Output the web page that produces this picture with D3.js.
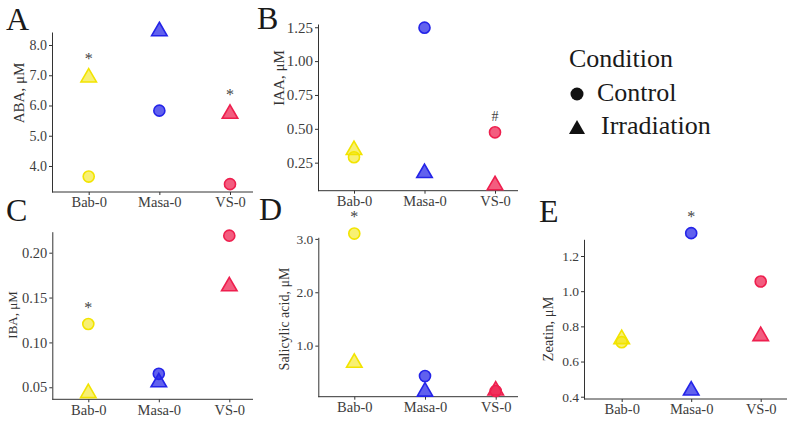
<!DOCTYPE html>
<html>
<head>
<meta charset="utf-8">
<script src="https://cdn.jsdelivr.net/npm/d3@7"></script>
<style>
  body { margin: 0; background: #fff; }
  svg { display: block; }
  text { font-family: "Liberation Serif", "Times New Roman", serif; }
</style>
</head>
<body>
<svg id="chart" width="796" height="422"></svg>
<script>
// genotypes on the x axis and the two conditions
const lines = ["Bab-0", "Masa-0", "VS-0"];
const conditions = ["Control", "Irradiation"];
const lineColors = ["#f2e400", "#2424e8", "#ee1f4e"];

// hormone levels, uM, one value per line
const abaControl = [3.65, 5.83, 3.40];
const abaIrradiation = [7.00, 8.53, 5.80];
const iaaControl = [0.29, 1.247, 0.474];
const iaaIrradiation = [0.36, 0.19, 0.10];
const ibaControl = [0.1205, 0.065, 0.219];
const ibaIrradiation = [0.046, 0.058, 0.165];
const saControl = [3.10, 0.43, 0.15];
const saIrradiation = [0.72, 0.18, 0.20];
const zeatinControl = [0.71, 1.33, 1.055];
const zeatinIrradiation = [0.74, 0.448, 0.757];

// y tick values
const abaTicks = [4, 5, 6, 7, 8];
const iaaTicks = [0.25, 0.5, 0.75, 1.0, 1.25];
const ibaTicks = [0.05, 0.10, 0.15, 0.20];
const saTicks = [1, 2, 3];
const zeatinTicks = [0.4, 0.6, 0.8, 1.0, 1.2];

// significance marks: [line, condition, symbol]
const abaMarks = [["Bab-0", "Irradiation", "*"], ["VS-0", "Irradiation", "*"]];
const iaaMarks = [["VS-0", "Control", "#"]];
const ibaMarks = [["Bab-0", "Control", "*"]];
const saMarks = [["Bab-0", "Control", "*"]];
const zeatinMarks = [["Masa-0", "Control", "*"]];

const panels = [
  { letter: "A", title: "ABA, \u03bcM", control: abaControl, irr: abaIrradiation, ticks: abaTicks, fmt: ".1f", marks: abaMarks,
    left: 52, right: 253, top: 32, bottom: 192, p0: 88.7, p1: 230, domain: [3.14, 8.43],
    letterAt: [6, 30], titleAt: [21, 93], titleFont: 15, tickFont: 14 },
  { letter: "B", title: "IAA, \u03bcM", control: iaaControl, irr: iaaIrradiation, ticks: iaaTicks, fmt: ".2f", marks: iaaMarks,
    left: 318, right: 518, top: 24, bottom: 190.7, p0: 354, p1: 495, domain: [0.043, 1.274],
    letterAt: [257, 29], titleAt: [281, 78], titleFont: 15, tickFont: 15 },
  { letter: "C", title: "IBA, \u03bcM", control: ibaControl, irr: ibaIrradiation, ticks: ibaTicks, fmt: ".2f", marks: ibaMarks,
    left: 52.3, right: 253, top: 231.7, bottom: 399.3, p0: 88.3, p1: 229.3, domain: [0.0366, 0.2234],
    letterAt: [6, 221], titleAt: [14, 315], titleFont: 13, tickFont: 14.5 },
  { letter: "D", title: "Salicylic acid, \u03bcM", control: saControl, irr: saIrradiation, ticks: saTicks, fmt: ".1f", marks: saMarks,
    left: 318.3, right: 518, top: 237.3, bottom: 396.7, p0: 354.3, p1: 495.7, domain: [0.043, 3.03],
    letterAt: [259, 220], titleAt: [286, 319], titleFont: 14, tickFont: 13.5 },
  { letter: "E", title: "Zeatin, \u03bcM", control: zeatinControl, irr: zeatinIrradiation, ticks: zeatinTicks, fmt: ".1f", marks: zeatinMarks,
    left: 584, right: 787, top: 239.3, bottom: 399, p0: 621.7, p1: 760.7, domain: [0.387, 1.295],
    letterAt: [539, 222], titleAt: [550, 329], titleFont: 14.5, tickFont: 13.5 }
];

const svg = d3.select("#chart");
const axisColor = "#333";
const labelColor = "#3d3d3d";

const triSide = 15.5;
const triShift = triSide * Math.sqrt(3) / 2 / 6;   // centre the box, not the centroid
const circleSym = d3.symbol().type(d3.symbolCircle).size(96);
const triSym = d3.symbol().type(d3.symbolTriangle).size(Math.sqrt(3) / 4 * triSide * triSide);

panels.forEach(p => {
  const g = svg.append("g");
  const x = d3.scalePoint().domain(lines).range([p.p0, p.p1]);
  const y = d3.scaleLinear().domain(p.domain).range([p.bottom, p.top]);

  // y axis
  const ya = g.append("g")
    .attr("transform", `translate(${p.left},0)`)
    .call(d3.axisLeft(y).tickValues(p.ticks).tickFormat(d3.format(p.fmt)).tickSize(3).tickSizeOuter(0).tickPadding(2));
  ya.attr("font-family", null).attr("font-size", null);
  ya.select(".domain").attr("stroke", axisColor);
  ya.selectAll(".tick line").attr("stroke", axisColor);
  ya.selectAll(".tick text").attr("fill", labelColor)
    .style("font-size", p.tickFont + "px");

  // x axis
  const xa = g.append("g")
    .attr("transform", `translate(0,${p.bottom})`)
    .call(d3.axisBottom(x).tickSize(3).tickPadding(2));
  xa.attr("font-family", null).attr("font-size", null);
  xa.select(".domain").remove();
  xa.append("line").attr("x1", p.left).attr("x2", p.right).attr("stroke", axisColor);
  xa.selectAll(".tick line").attr("stroke", axisColor);
  xa.selectAll(".tick text").attr("fill", labelColor)
    .style("font-size", "14.5px");

  // y title
  g.append("text")
    .attr("transform", `translate(${p.titleAt[0]},${p.titleAt[1]}) rotate(-90)`)
    .attr("text-anchor", "middle").attr("dominant-baseline", "middle")
    .attr("fill", "#333").style("font-size", p.titleFont + "px")
    .text(p.title);

  // panel letter
  g.append("text")
    .attr("x", p.letterAt[0]).attr("y", p.letterAt[1])
    .attr("fill", "#1a1a1a").style("font-size", "32px")
    .text(p.letter);

  // points
  const pts = [];
  lines.forEach((l, i) => {
    pts.push({ line: l, cond: "Control", v: p.control[i], c: lineColors[i] });
    pts.push({ line: l, cond: "Irradiation", v: p.irr[i], c: lineColors[i] });
  });
  g.selectAll("path.pt").data(pts).join("path")
    .attr("class", "pt")
    .attr("d", d => d.cond === "Control" ? circleSym() : triSym())
    .attr("transform", d => `translate(${x(d.line)},${y(d.v) + (d.cond === "Control" ? 0 : triShift)})`)
    .attr("fill", d => d.c).attr("fill-opacity", d => d.c === lineColors[0] ? 0.55 : 0.72)
    .attr("stroke", d => d.c).attr("stroke-width", 1.6);

  // significance marks
  p.marks.forEach(([l, cond, s]) => {
    const v = (cond === "Control" ? p.control : p.irr)[lines.indexOf(l)];
    g.append("text")
      .attr("x", x(l)).attr("y", y(v) - 15)
      .attr("text-anchor", "middle").attr("dominant-baseline", "middle")
      .attr("fill", "#444").style("font-size", s === "*" ? "16px" : "14px")
      .text(s);
  });
});

// legend
const leg = svg.append("g");
leg.append("text").attr("x", 569).attr("y", 67).style("font-size", "26px").attr("fill", "#1a1a1a").text("Condition");
const legRows = [{ cond: conditions[0], y: 94, tx: 597 }, { cond: conditions[1], y: 127, tx: 601 }];
legRows.forEach(r => {
  leg.append("path")
    .attr("d", r.cond === "Control" ? d3.symbol().type(d3.symbolCircle).size(133)() : d3.symbol().type(d3.symbolTriangle).size(Math.sqrt(3) / 4 * 256)())
    .attr("transform", `translate(577,${r.cond === "Control" ? r.y : r.y + 2.3})`)
    .attr("fill", "#111");
  leg.append("text").attr("x", r.tx).attr("y", r.y + 7).style("font-size", "26px").attr("fill", "#1a1a1a").text(r.cond);
});
</script>
</body>
</html>
